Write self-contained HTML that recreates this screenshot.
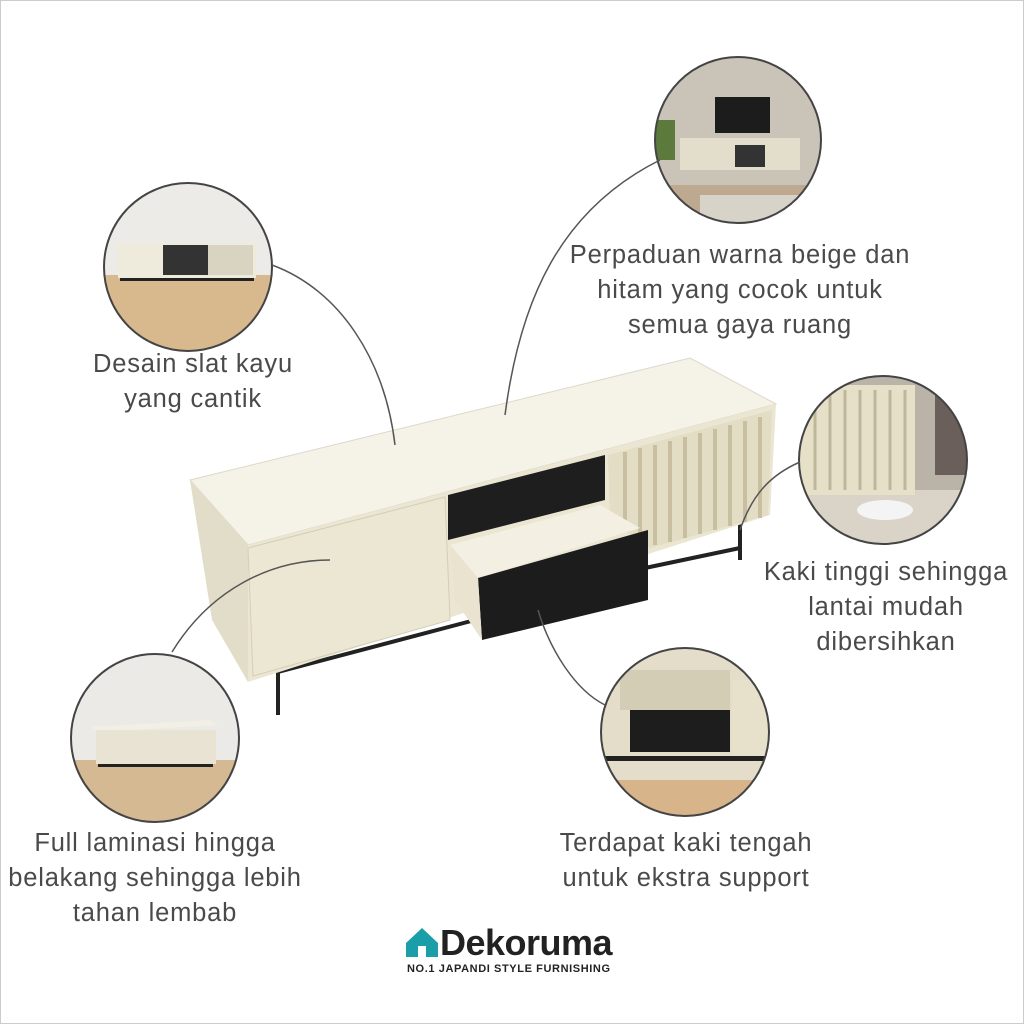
<!DOCTYPE html>
<html><head><meta charset="utf-8"><style>
html,body{margin:0;padding:0;background:#fff}
.w{position:relative;width:1024px;height:1024px;overflow:hidden;background:#fff;font-family:"Liberation Sans",sans-serif}
.t{position:absolute;color:#4a4a4a;font-size:25.5px;line-height:35px;text-align:center;letter-spacing:0.8px}
</style></head><body><div class="w">
<svg width="1024" height="1024" style="position:absolute;left:0;top:0">
<rect x="0.5" y="0.5" width="1023" height="1023" fill="none" stroke="#ccc"/>
<defs>
<clipPath id="c1"><circle cx="188" cy="267" r="84"/></clipPath>
<clipPath id="c2"><circle cx="738" cy="140" r="83"/></clipPath>
<clipPath id="c3"><circle cx="883" cy="460" r="84"/></clipPath>
<clipPath id="c4"><circle cx="155" cy="738" r="84"/></clipPath>
<clipPath id="c5"><circle cx="685" cy="732" r="84"/></clipPath>
</defs>
<g clip-path="url(#c1)"><rect x="100" y="180" width="180" height="180" fill="#ecebe8"/><rect x="100" y="275" width="180" height="90" fill="#d8b98e"/>
<rect x="118" y="243" width="138" height="35" fill="#eeeadc"/><rect x="163" y="245" width="45" height="30" fill="#333"/><rect x="208" y="245" width="45" height="30" fill="#d9d4c2"/><rect x="120" y="278" width="134" height="3" fill="#222"/></g>
<circle cx="188" cy="267" r="84" fill="none" stroke="#444" stroke-width="2"/>
<g clip-path="url(#c2)"><rect x="650" y="55" width="180" height="180" fill="#c9c3b8"/><rect x="650" y="185" width="180" height="50" fill="#bca98f"/><rect x="700" y="195" width="110" height="30" fill="#d8d3c8"/>
<rect x="715" y="97" width="55" height="36" fill="#1c1c1c"/><rect x="680" y="138" width="120" height="32" fill="#e3ddcc"/><rect x="735" y="145" width="30" height="22" fill="#333"/><rect x="655" y="120" width="20" height="40" fill="#5b7a3c"/></g>
<circle cx="738" cy="140" r="83" fill="none" stroke="#444" stroke-width="2"/>
<g clip-path="url(#c3)"><rect x="795" y="375" width="180" height="180" fill="#b9b3a8"/><rect x="795" y="490" width="180" height="60" fill="#d9d3c8"/><rect x="935" y="375" width="40" height="100" fill="#6a5f5a"/>
<rect x="800" y="385" width="115" height="110" fill="#e6e0c9"/><g stroke="#bfb79c" stroke-width="3"><line x1="815" y1="390" x2="815" y2="490"/><line x1="830" y1="390" x2="830" y2="490"/><line x1="845" y1="390" x2="845" y2="490"/><line x1="860" y1="390" x2="860" y2="490"/><line x1="875" y1="390" x2="875" y2="490"/><line x1="890" y1="390" x2="890" y2="490"/><line x1="905" y1="390" x2="905" y2="490"/></g><ellipse cx="885" cy="510" rx="28" ry="10" fill="#f4f4f4"/></g>
<circle cx="883" cy="460" r="84" fill="none" stroke="#444" stroke-width="2"/>
<g clip-path="url(#c4)"><rect x="70" y="654" width="170" height="170" fill="#eceae6"/><rect x="70" y="760" width="170" height="70" fill="#d5b993"/>
<polygon points="92,727 210,720 218,725 98,732" fill="#f2efe4"/><rect x="96" y="730" width="120" height="34" fill="#e8e3d2"/><rect x="98" y="764" width="115" height="3" fill="#222"/></g>
<circle cx="155" cy="738" r="84" fill="none" stroke="#444" stroke-width="2"/>
<g clip-path="url(#c5)"><rect x="600" y="648" width="170" height="170" fill="#e4ddc9"/><rect x="600" y="780" width="170" height="40" fill="#d8b48a"/>
<rect x="620" y="670" width="110" height="40" fill="#d4cdb6"/><rect x="630" y="710" width="100" height="42" fill="#1d1d1d"/><rect x="732" y="680" width="40" height="80" fill="#e7e1cc"/><rect x="600" y="756" width="170" height="5" fill="#222"/></g>
<circle cx="685" cy="732" r="84" fill="none" stroke="#444" stroke-width="2"/>
<g stroke="#222" stroke-width="4"><line x1="278" y1="672" x2="278" y2="715"/><line x1="740" y1="520" x2="740" y2="560"/><line x1="278" y1="672" x2="475" y2="620"/><line x1="645" y1="568" x2="740" y2="548"/></g>
<polygon points="190,480 690,358 776,404 248,545" fill="#f5f2e8" stroke="#ddd8c8"/>
<polygon points="190,480 248,545 248,682 212,620" fill="#e2ddc9"/>
<polygon points="248,545 776,404 770,515 248,682" fill="#ebe6d2"/>
<polygon points="248,548 445,497 450,620 253,676" fill="#ece7d3" stroke="#d4ceb8"/>
<polygon points="448,495 605,455 605,500 448,540" fill="#1e1e1e"/>
<polygon points="608,455 772,410 768,515 650,548 610,520" fill="#e3ddc5"/>
<g stroke="#c7bf9f" stroke-width="4"><line x1="625" y1="452" x2="625" y2="530"/><line x1="640" y1="448" x2="640" y2="542"/><line x1="655" y1="445" x2="655" y2="545"/><line x1="670" y1="441" x2="670" y2="542"/><line x1="685" y1="437" x2="685" y2="538"/><line x1="700" y1="433" x2="700" y2="534"/><line x1="715" y1="429" x2="715" y2="530"/><line x1="730" y1="425" x2="730" y2="526"/><line x1="745" y1="421" x2="745" y2="522"/><line x1="760" y1="417" x2="760" y2="518"/></g>
<polygon points="450,545 600,505 640,528 478,578" fill="#f3efe2"/>
<polygon points="478,578 648,530 648,600 482,640" fill="#1c1c1c"/>
<polygon points="450,545 478,578 482,640 455,600" fill="#e9e3cf"/>
<g fill="none" stroke="#555" stroke-width="1.5">
<path d="M272,265 C340,290 385,360 395,445"/>
<path d="M660,160 C560,210 520,300 505,415"/>
<path d="M800,462 C770,475 752,495 740,530"/>
<path d="M172,652 C210,590 270,560 330,560"/>
<path d="M605,705 C575,690 550,650 538,610"/>
</g>
<path d="M406,943 L422,928 L438,943 L438,957 L406,957 Z" fill="#1a9fa8"/><rect x="418" y="946" width="8" height="11" fill="#fff"/>
</svg>
<div class="t" style="left:53px;top:347px;width:280px">Desain slat kayu<br>yang cantik</div>
<div class="t" style="left:520px;top:238px;width:440px">Perpaduan warna beige dan<br>hitam yang cocok untuk<br>semua gaya ruang</div>
<div class="t" style="left:736px;top:555px;width:300px">Kaki tinggi sehingga<br>lantai mudah<br>dibersihkan</div>
<div class="t" style="left:-15px;top:826px;width:340px">Full laminasi hingga<br>belakang sehingga lebih<br>tahan lembab</div>
<div class="t" style="left:516px;top:826px;width:340px">Terdapat kaki tengah<br>untuk ekstra support</div>
<div style="position:absolute;left:440px;top:922px;font-size:36px;font-weight:bold;color:#222;letter-spacing:-0.5px">Dekoruma</div>
<div style="position:absolute;left:407px;top:963px;font-size:11px;font-weight:bold;color:#222;letter-spacing:0.6px">NO.1 JAPANDI STYLE FURNISHING</div>
</div></body></html>
